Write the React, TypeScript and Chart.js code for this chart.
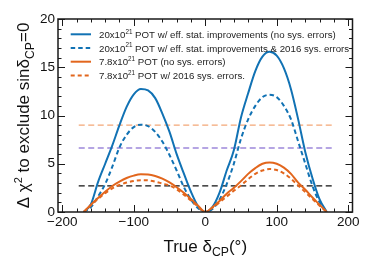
import { useEffect, useRef } from "react";
import { Chart, registerables } from "chart.js";

Chart.register(...registerables);

// True delta_CP (degrees)
const deltaCP = [
  -170, -160, -150, -140, -130, -120, -110, -100, -90, -80, -70, -60, -50, -40, -30, -20, -10,
  0, 10, 20, 30, 40, 50, 60, 70, 80, 90, 100, 110, 120, 130, 140, 150, 160, 170,
];

// 20x10^21 POT w/ eff. stat. improvements (no sys. errors)
const pot20NoSys = [
  0, 0.8, 3.1, 5.0, 6.9, 9.0, 10.9, 12.2, 12.75, 12.6, 11.8, 10.2, 8.3, 6.0, 4.0, 2.1, 0.6,
  0, 0.5, 2.0, 4.3, 6.4, 9.8, 12.3, 14.6, 16.1, 16.6, 16.2, 14.9, 12.7, 9.6, 6.2, 3.5, 1.3, 0,
];

// 20x10^21 POT w/ eff. stat. improvements & 2016 sys. errors
const pot20Sys2016 = [
  0, 0.5, 1.6, 2.9, 4.7, 6.7, 8.0, 8.8, 9.05, 8.9, 8.3, 7.3, 5.9, 4.3, 2.6, 1.3, 0.4,
  0, 0.3, 1.3, 2.9, 5.0, 7.6, 9.6, 11.0, 11.9, 12.15, 11.9, 11.0, 9.6, 7.3, 5.0, 2.7, 1.0, 0,
];

// 7.8x10^21 POT (no sys. errors)
const pot78NoSys = [
  0, 0.75, 1.45, 2.1, 2.7, 3.15, 3.52, 3.77, 3.9, 3.88, 3.73, 3.46, 3.07, 2.57, 2.0, 1.34, 0.64,
  0, 0.5, 1.15, 1.9, 2.5, 3.2, 3.95, 4.55, 5.0, 5.14, 5.0, 4.6, 3.95, 3.05, 2.3, 1.5, 0.75, 0,
];

// 7.8x10^21 POT w/ 2016 sys. errors.
const pot78Sys2016 = [
  0, 0.7, 1.35, 1.95, 2.45, 2.8, 3.05, 3.22, 3.3, 3.28, 3.15, 2.95, 2.75, 2.35, 1.8, 1.2, 0.55,
  0, 0.45, 1.0, 1.6, 2.2, 2.75, 3.4, 3.95, 4.3, 4.45, 4.35, 4.0, 3.45, 2.75, 2.05, 1.35, 0.65, 0,
];

const seriesLabels = [
  "20x10²¹ POT w/ eff. stat. improvements (no sys. errors)",
  "20x10²¹ POT w/ eff. stat. improvements & 2016 sys. errors",
  "7.8x10²¹ POT (no sys. errors)",
  "7.8x10²¹ POT w/ 2016 sys. errors.",
];

// Horizontal reference levels (Δχ² = 9, 6.63, 2.71)
const thresholdLevels = [9.0, 6.63, 2.71];
const thresholdRange = [-177, 177];

const xTickValues = [-200, -100, 0, 100, 200];
const xTickLabels = ["\u2212200", "\u2212100", "0", "100", "200"];
const yTickValues = [0, 5, 10, 15, 20];
const yTickLabels = ["0", "5", "10", "15", "20"];

const BLUE = "#1172b4";
const ORANGE = "#e2661d";
const THRESH_COLORS = ["#f4a777", "#9d88da", "#111111"];
const FONT = "'Liberation Sans', Arial, Helvetica, sans-serif";

const SUP_MAP: Record<string, string> = {
  "⁰": "0", "¹": "1", "²": "2", "³": "3", "⁴": "4", "⁵": "5", "⁶": "6", "⁷": "7", "⁸": "8", "⁹": "9",
};

type Seg = { t: string; k?: "sup" | "sub" };

function splitSup(text: string): Seg[] {
  const out: Seg[] = [];
  for (const ch of text) {
    const isSup = ch in SUP_MAP;
    const c = isSup ? SUP_MAP[ch] : ch;
    const last = out[out.length - 1];
    if (last && (last.k === "sup") === isSup) last.t += c;
    else out.push(isSup ? { t: c, k: "sup" } : { t: c });
  }
  return out;
}

function richWidth(ctx: CanvasRenderingContext2D, segs: Seg[], size: number) {
  let w = 0;
  for (const s of segs) {
    const fs = s.k ? size * (s.k === "sup" ? 0.65 : 0.72) : size;
    ctx.font = `${fs}px ${FONT}`;
    w += ctx.measureText(s.t).width;
  }
  return w;
}

function drawRich(ctx: CanvasRenderingContext2D, segs: Seg[], x: number, y: number, size: number) {
  let cx = x;
  ctx.textBaseline = "alphabetic";
  ctx.textAlign = "left";
  for (const s of segs) {
    let fs = size;
    let dy = 0;
    if (s.k === "sup") { fs = size * 0.65; dy = -size * 0.42; }
    if (s.k === "sub") { fs = size * 0.72; dy = size * 0.28; }
    ctx.font = `${fs}px ${FONT}`;
    ctx.fillText(s.t, cx, y + dy);
    cx += ctx.measureText(s.t).width;
  }
}

const decorPlugin = {
  id: "rootDecor",
  afterDraw(chart: any) {
    const ctx: CanvasRenderingContext2D = chart.ctx;
    const { left, right, top, bottom } = chart.chartArea;
    const xs = chart.scales.x;
    const ys = chart.scales.y;
    ctx.save();
    ctx.strokeStyle = "#1a1a1a";
    // minor/major tick marks (inward, on all four sides)
    ctx.lineWidth = 1;
    ctx.beginPath();
    for (let v = -200; v <= 200; v += 20) {
      const px = Math.round(xs.getPixelForValue(v)) + 0.5;
      const len = v % 100 === 0 ? 7 : 3.5;
      ctx.moveTo(px, bottom); ctx.lineTo(px, bottom - len);
      ctx.moveTo(px, top); ctx.lineTo(px, top + len);
    }
    for (let v = 0; v <= 20; v += 1) {
      const py = Math.round(ys.getPixelForValue(v)) + 0.5;
      const len = v % 5 === 0 ? 7 : 3.5;
      ctx.moveTo(left, py); ctx.lineTo(left + len, py);
      ctx.moveTo(right, py); ctx.lineTo(right - len, py);
    }
    ctx.stroke();
    // frame
    ctx.lineWidth = 1.5;
    ctx.strokeRect(left, top, right - left, bottom - top);

    // legend (inside plot area)
    const dsets = chart.data.datasets.slice(0, 4);
    dsets.forEach((ds: any, i: number) => {
      const yc = top + 15.3 + i * 13.7;
      ctx.save();
      ctx.strokeStyle = ds.borderColor;
      ctx.lineWidth = ds.borderWidth;
      ctx.setLineDash(ds.borderDash || []);
      ctx.beginPath();
      ctx.moveTo(left + 12.7, yc);
      ctx.lineTo(left + 33, yc);
      ctx.stroke();
      ctx.restore();
      ctx.fillStyle = "#1e1e1e";
      drawRich(ctx, splitSup(ds.label), left + 41, yc + 3.5, 9.7);
    });

    // x axis title
    ctx.fillStyle = "#111";
    const xt: Seg[] = [{ t: "True δ" }, { t: "CP", k: "sub" }, { t: "(°)" }];
    const xw = richWidth(ctx, xt, 17);
    drawRich(ctx, xt, (left + right) / 2 - xw / 2, 251.5, 17);

    // y axis title (rotated)
    const yt: Seg[] = [
      { t: "Δ χ" }, { t: "2", k: "sup" }, { t: " to exclude sinδ" }, { t: "CP", k: "sub" }, { t: "=0" },
    ];
    const yw = richWidth(ctx, yt, 17);
    ctx.save();
    ctx.translate(29, (top + bottom) / 2);
    ctx.rotate(-Math.PI / 2);
    drawRich(ctx, yt, -yw / 2, 0, 17);
    ctx.restore();
    ctx.restore();
  },
};

export default function App() {
  const ref = useRef<HTMLCanvasElement | null>(null);
  useEffect(() => {
    const canvas = ref.current;
    if (!canvas) return;
    const curves = [
      { label: seriesLabels[0], arr: pot20NoSys, color: BLUE, dash: [] as number[] },
      { label: seriesLabels[1], arr: pot20Sys2016, color: BLUE, dash: [4.5, 3] },
      { label: seriesLabels[2], arr: pot78NoSys, color: ORANGE, dash: [] as number[] },
      { label: seriesLabels[3], arr: pot78Sys2016, color: ORANGE, dash: [4, 3] },
    ];
    const curveSets = curves.map((c, i) => ({
      label: c.label,
      data: deltaCP.map((x, j) => ({ x, y: c.arr[j] })),
      borderColor: c.color,
      borderWidth: 2,
      borderDash: c.dash,
      pointRadius: 0,
      fill: false,
      cubicInterpolationMode: "monotone" as const,
      order: 4 - i,
    }));
    const threshSets = thresholdLevels.map((lv, i) => ({
      label: `Δχ² = ${lv}`,
      data: thresholdRange.map((x) => ({ x, y: lv })),
      borderColor: THRESH_COLORS[i],
      borderWidth: 1.3,
      borderDash: [6, 3.5],
      pointRadius: 0,
      fill: false,
      order: 10,
    }));
    const chart = new Chart(canvas, {
      type: "line",
      data: { datasets: [...curveSets, ...threshSets] as any },
      options: {
        animation: false,
        responsive: false,
        devicePixelRatio: 1,
        layout: { padding: { top: 19, right: 39.5, left: 0, bottom: 0 } },
        plugins: { legend: { display: false }, tooltip: { enabled: false } },
        scales: {
          x: {
            type: "linear",
            min: -206,
            max: 206,
            grid: { display: false, drawTicks: false },
            border: { display: false },
            afterBuildTicks: (s: any) => {
              s.ticks = xTickValues.map((v) => ({ value: v }));
            },
            afterFit: (s: any) => {
              s.height = 54;
            },
            ticks: {
              autoSkip: false,
              maxRotation: 0,
              padding: 2,
              color: "#111",
              font: { family: FONT, size: 13.5 },
              callback: (v: any) => {
                const i = xTickValues.indexOf(Number(v));
                return i >= 0 ? xTickLabels[i] : "";
              },
            },
          },
          y: {
            type: "linear",
            min: 0,
            max: 20,
            grid: { display: false, drawTicks: false },
            border: { display: false },
            afterBuildTicks: (s: any) => {
              s.ticks = yTickValues.map((v) => ({ value: v }));
            },
            afterFit: (s: any) => {
              s.width = 58;
            },
            ticks: {
              autoSkip: false,
              padding: 3,
              color: "#111",
              font: { family: FONT, size: 13.5 },
              callback: (v: any) => {
                const i = yTickValues.indexOf(Number(v));
                return i >= 0 ? yTickLabels[i] : "";
              },
            },
          },
        },
      },
      plugins: [decorPlugin],
    });
    return () => chart.destroy();
  }, []);
  return (
    <div style={{ position: "absolute", left: 0, top: 0, width: 392, height: 266, background: "#fff" }}>
      <canvas ref={ref} width={392} height={266} style={{ display: "block", width: 392, height: 266 }} />
    </div>
  );
}
